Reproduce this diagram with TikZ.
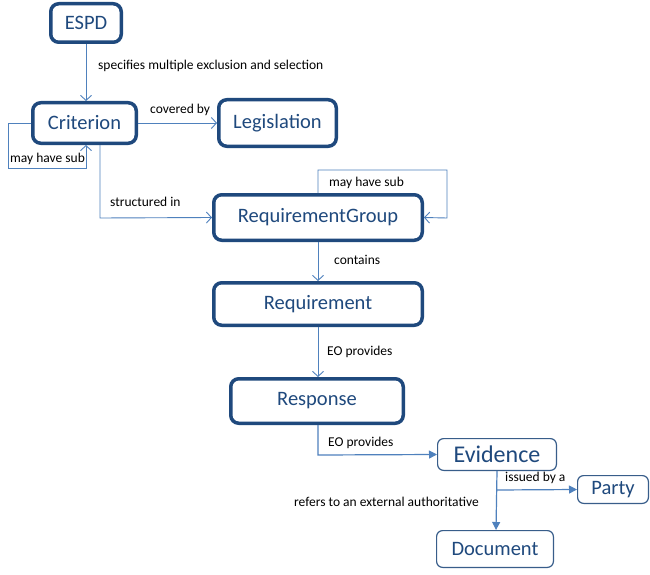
\documentclass[tikz,border=0pt]{standalone}
\usepackage{fontspec}
\setmainfont{Carlito}
\usetikzlibrary{arrows.meta}
\definecolor{boxc}{HTML}{1F497D}
\definecolor{thinc}{HTML}{385D8A}
\definecolor{txtc}{HTML}{1F497D}
\definecolor{conc}{HTML}{4F81BD}
\tikzset{
  thickbox/.style={draw=boxc, line width=3.5pt, rounded corners=8pt, inner sep=0pt, text=txtc, font=\fontsize{20.5}{24}\selectfont},
  thinbox/.style={draw=thinc, line width=1.2pt, rounded corners=6pt, inner sep=0pt, text=txtc, font=\fontsize{20.5}{24}\selectfont},
  openconn/.style={draw=conc, line width=0.9pt, -{Straight Barb[length=5pt,width=11pt,line width=0.9pt]}},
  fillconn/.style={draw=conc, line width=1.2pt, -{Triangle[length=8pt,width=8pt]}},
  lbl/.style={font=\fontsize{13.5}{15}\selectfont, inner sep=0pt, anchor=west, text=black},
}
\begin{document}
\begin{tikzpicture}[x=1pt,y=-1pt]
\useasboundingbox[fill=white] (0,0) rectangle (650,575);
% boxes
\node[thickbox, minimum width=70.5pt, minimum height=38.5pt] (espd) at (86,23) {ESPD};
\node[thickbox, minimum width=103.5pt, minimum height=40.5pt] (crit) at (84.5,123) {Criterion};
\node[thickbox, minimum width=117.5pt, minimum height=46.5pt] (leg) at (277.5,123) {Legislation};
\node[thickbox, minimum width=208.5pt, minimum height=45.5pt] (rg) at (318,217.5) {RequirementGroup};
\node[thickbox, minimum width=208.5pt, minimum height=42.5pt] (req) at (318,304) {Requirement};
\node[thickbox, minimum width=172.5pt, minimum height=44.5pt] (resp) at (317,401) {Response};
\node[thinbox, minimum width=118.8pt, minimum height=31.8pt, font=\fontsize{24}{28}\selectfont] (evid) at (497,454.5) {Evidence};
\node[thinbox, minimum width=70.8pt, minimum height=27.8pt] (party) at (613,489.5) {Party};
\node[thinbox, minimum width=116.8pt, minimum height=36.8pt] (doc) at (495,549) {Document};
% coordinates
\coordinate (cl1) at (8,123);
\coordinate (cl2) at (8,168);
\coordinate (cl3) at (86,168);
\coordinate (cs) at (100,145);
\coordinate (cs2) at (100,218);
\coordinate (rl1) at (318,170);
\coordinate (rl2) at (447,170);
\coordinate (rl3) at (447,218);
\coordinate (rs) at (318,425);
\coordinate (rs2) at (318,455);
\coordinate (eb) at (497,471);
\coordinate (br) at (497,490);
\coordinate (dt) at (496,530);
% connectors
\draw[openconn] (espd.south) -- (espd.south |- crit.north);
\draw[openconn] (crit.east) -- (leg.west);
\draw[openconn] (crit.west) -- (cl1) -- (cl2) -- (cl3) -- (cl3 |- crit.south);
\draw[openconn] (cs) -- (cs2) -- (rg.west);
\draw[openconn] (rg.north) -- (rl1) -- (rl2) -- (rl3) -- (rg.east);
\draw[openconn] (rg.south) -- (req.north);
\draw[openconn] (req.south) -- (req.south |- resp.north);
\draw[fillconn] (rs) -- (rs2) -- (evid.west);
\draw[fillconn] (eb) -- (dt);
\draw[fillconn] (br) -- (party.west);
% labels
\node[lbl] (l1) at (98,66) {specifies multiple exclusion and selection};
\node[lbl] (l2) at (150,110) {covered by};
\node[lbl] (l3) at (10,159) {may have sub};
\node[lbl] (l4) at (110,202) {structured in};
\node[lbl] (l5) at (329,183) {may have sub};
\node[lbl] (l6) at (334,260) {contains};
\node[lbl] (l7) at (327,352) {EO provides};
\node[lbl] (l8) at (328,443) {EO provides};
\node[lbl] (l9) at (505,478) {issued by a};
\node[lbl] (l10) at (294,502) {refers to an external authoritative};
\end{tikzpicture}
\end{document}
